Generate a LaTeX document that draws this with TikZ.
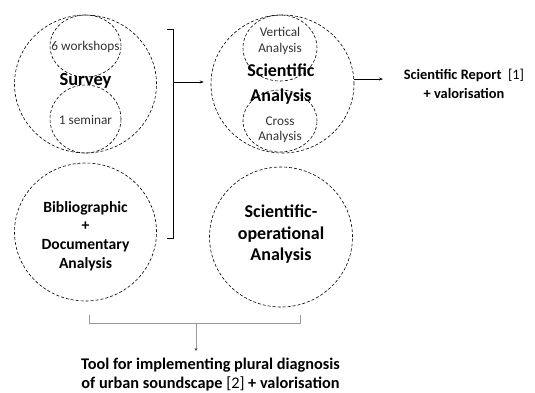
\documentclass[tikz,border=0pt]{standalone}
\usepackage{fontspec}
\setmainfont{Carlito}
\usetikzlibrary{shapes.geometric,arrows.meta}
\begin{document}
\begin{tikzpicture}[x=1pt,y=-1pt,
  ring/.style={draw,ellipse,dash pattern=on 3pt off 2pt,line width=0.6pt,inner sep=0pt},
  lbl/.style={align=center,inner sep=0pt},
  big/.style={lbl,font=\bfseries\fontsize{18.5}{19}\selectfont},
  small/.style={lbl,font=\fontsize{13.3}{15.5}\selectfont,text=black!80},
  link/.style={line width=0.6pt},
  glink/.style={line width=0.8pt,draw=black!40},
  tip/.style={-{Stealth[length=4pt,width=3pt]}},
  gtip/.style={-{Stealth[length=3pt,width=3pt,color=black!70]}}]
\useasboundingbox (0,0) rectangle (535,392);
% circles
\node[ring,minimum width=142pt,minimum height=138pt] (survey) at (85.5,84) {};
\node[ring,minimum width=71pt,minimum height=62pt] (ws) at (85.5,46) {};
\node[ring,minimum width=71pt,minimum height=68pt] (sem) at (85.5,119) {};
\node[ring,minimum width=142pt,minimum height=138pt] (biblio) at (85.5,232) {};
\node[ring,minimum width=143pt,minimum height=138pt] (sci) at (282.5,84) {};
\node[ring,minimum width=74pt,minimum height=66pt] (vert) at (280,48) {};
\node[ring,minimum width=74pt,minimum height=62pt] (cross) at (280,121) {};
\node[ring,minimum width=143pt,minimum height=140pt] (sciop) at (281,237) {};
% texts
\node[small] (tws) at (85.5,47) {6 workshops};
\node[big] (tsurvey) at (85.5,81) {Survey};
\node[small] (tsem) at (85.5,120) {1 seminar};
\node[lbl,font=\bfseries\fontsize{15.6}{18.7}\selectfont] (tbib) at (85.5,236) {Bibliographic\\+\\Documentary\\Analysis};
\node[small] (tvert) at (280,41) {Vertical\\Analysis};
\node[lbl,font=\bfseries\fontsize{18}{25}\selectfont] (tsci) at (281,84.5) {Scientific\\Analysis};
\node[small,font=\fontsize{13.3}{15}\selectfont] (tcross) at (280,129.5) {Cross\\Analysis};
\node[lbl,font=\bfseries\fontsize{18}{21.5}\selectfont] (tsciop) at (281,234.5) {Scientific-\\operational\\Analysis};
\node[lbl,font=\bfseries\fontsize{14.4}{19}\selectfont] (report) at (464,84) {Scientific Report\ \ \textmd{[1]}\\+ valorisation};
\node[lbl,font=\bfseries\fontsize{16.3}{18.5}\selectfont] (tool) at (210.5,374.5) {Tool for implementing plural diagnosis\\of urban soundscape \textmd{[2]} + valorisation};
% top bracket
\coordinate (b1) at (167,29);
\coordinate (b2) at (173,29);
\coordinate (b3) at (173,238);
\coordinate (b4) at (167,238);
\coordinate (bm) at (173,82);
\draw[link] (b1) -- (b2) -- (b3) -- (b4);
\draw[link,tip] (bm) -- ([xshift=-7pt]sci.west |- bm);
% right arrow
\coordinate (re) at (354,79);
\coordinate (rend) at (383,79);
\draw[link,tip] (re) -- (rend);
% bottom bracket
\coordinate (c1) at (89,315);
\coordinate (c2) at (89,323);
\coordinate (c3) at (300,323);
\coordinate (c4) at (300,315);
\coordinate (cm) at (196,323);
\coordinate (ce) at (196,351);
\draw[glink] (c1) -- (c2) -- (c3) -- (c4);
\draw[glink,gtip] (cm) -- (ce);
\end{tikzpicture}
\end{document}
